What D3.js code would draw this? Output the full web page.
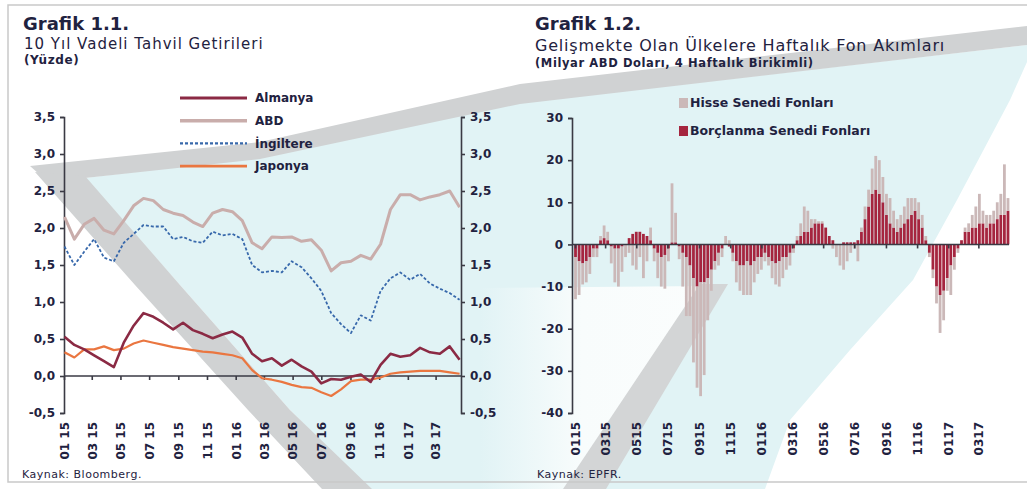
<!DOCTYPE html>
<html><head><meta charset="utf-8">
<script src="https://cdn.jsdelivr.net/npm/d3@7/dist/d3.min.js"></script>
<style>
body{margin:0;background:#fff;overflow:hidden}
svg{display:block}
text{font-family:"DejaVu Sans",sans-serif;fill:#1f2240}
</style>
</head><body>
<svg id="c" width="1027" height="489"></svg>
<script>
// ---------- DATA ----------
// Grafik 1.1 : 10-year bond yields (%), sampled every 3 weeks from 2015-01-02
const seriesNames = ["Almanya", "ABD", "İngiltere", "Japonya"];
const almanya = [0.53,0.42,0.36,0.28,0.2,0.12,0.45,0.68,0.85,0.8,0.72,0.63,0.72,0.62,0.57,0.51,0.56,0.6,0.52,0.3,0.2,0.24,0.14,0.22,0.13,0.06,-0.1,-0.04,-0.05,-0.01,0.02,-0.08,0.15,0.3,0.26,0.28,0.38,0.32,0.3,0.4,0.22];
const abd = [2.15,1.85,2.05,2.13,1.97,1.92,2.1,2.3,2.4,2.37,2.25,2.2,2.17,2.08,2.02,2.2,2.25,2.22,2.1,1.8,1.72,1.88,1.87,1.88,1.82,1.84,1.7,1.42,1.53,1.55,1.63,1.58,1.78,2.25,2.45,2.45,2.38,2.42,2.45,2.5,2.28];
const ingiltere = [1.75,1.5,1.68,1.85,1.6,1.55,1.8,1.92,2.04,2.02,2.02,1.85,1.88,1.82,1.8,1.95,1.9,1.92,1.85,1.5,1.4,1.42,1.4,1.55,1.47,1.32,1.15,0.85,0.7,0.58,0.82,0.75,1.15,1.32,1.4,1.3,1.38,1.25,1.18,1.12,1.03];
const japonya = [0.32,0.25,0.36,0.36,0.4,0.35,0.37,0.44,0.48,0.45,0.42,0.39,0.37,0.35,0.33,0.32,0.3,0.28,0.24,0.08,-0.03,-0.05,-0.08,-0.12,-0.15,-0.16,-0.22,-0.27,-0.18,-0.07,-0.05,-0.05,-0.02,0.03,0.05,0.06,0.07,0.07,0.07,0.05,0.03];
const lineStart = "2015-01-02", lineEnd = "2017-04-22", lineStepWeeks = 3;
const leftTicks = [-0.5,0,0.5,1,1.5,2,2.5,3,3.5];

// Grafik 1.2 : weekly fund flows (bn USD, 4-week cumulative), weekly from 2015-01-02
const fundNames = ["Hisse Senedi Fonları", "Borçlanma Senedi Fonları"];
const borclanma = [-3,-4,-4.5,-4,-3,-1,-1,1,1.5,1,-0.5,-1,-1,-0.5,0,1.5,2.5,3,3,2.5,2,1,-1,-2,-3,-2.5,-1,0.5,0.5,-0.5,-2,-3,-5,-8,-10,-9,-9,-8,-6,-4,-2,-1,0,-0.5,-2,-4,-5,-5,-4,-5,-4,-3,-3,-2,-3,-4,-4.5,-4,-3,-3,-2,-1,1,2,3,3,4,5,5,5,4,2,1,0,0,0.5,0.5,0.5,0.5,1,3,6,9,12,13,12,10,7,5,4,3,4,5,6,7,8,6,4,1,-2,-6,-10,-12,-11,-8,-5,-3,-1,1,3,3,4,4,5,5,4,5,5,6,7,7,8];
const hisse = [-10,-8,-5,-5,-4,-2,-2,1,3,2,-4,-8,-9,-6,-3,-2,-5,-6,-3,-8,-4,3,-3,-6,-7,-8,-3,14,7,-3,-8,-14,-12,-20,-24,-27,-22,-10,-5,-2,-3,-2,2,1,-2,-5,-6,-7,-8,-7,-5,-4,-3,-2,-2,-4,-5,-6,-5,-3,-3,-1,1,3,6,5,2,1,0.5,0.5,0,0,-1,-3,-5,-6,-4,-2,-1,-4,1,3,4,6,8,8,6,5,6,4,3,3,4,5,4,3,4,3,1,-1,-2,-4,-9,-7,-3,-7,-3,-1,0,1,2,3,5,7,3,3,2,3,4,5,12,3];
const barStart = "2015-01-02", barEnd = "2017-04-29";
const rightTicks = [-40,-30,-20,-10,0,10,20,30];

// x tick dates (every two months) and their labels
const tickDates = ["2015-01-01","2015-03-01","2015-05-01","2015-07-01","2015-09-01","2015-11-01","2016-01-01","2016-03-01","2016-05-01","2016-07-01","2016-09-01","2016-11-01","2017-01-01","2017-03-01"];
const leftTickLabels = ["01 15","03 15","05 15","07 15","09 15","11 15","01 16","03 16","05 16","07 16","09 16","11 16","01 17","03 17"];
const rightTickLabels = ["0115","0315","0515","0715","0915","1115","0116","0316","0516","0716","0916","1116","0117","0317"];

// ---------- DRAW ----------
const parse = d3.timeParse("%Y-%m-%d");
const tr = d3.formatLocale({decimal:",",thousands:".",grouping:[3],currency:["","₺"],minus:"-"});
const svg = d3.select("#c");

// decorative background (photographed page watermark)
const defs = svg.append("defs");
const grad = defs.append("linearGradient").attr("id","fade").attr("x1","0").attr("x2","1").attr("y1","0").attr("y2","0");
grad.append("stop").attr("offset","0").attr("stop-color","#e1f3f5");
grad.append("stop").attr("offset","0.45").attr("stop-color","#f8fcfc");
grad.append("stop").attr("offset","1").attr("stop-color","#fbfdfd");
const bg = svg.append("g");
bg.append("polygon").attr("points","85,178 260,157 520,103 1027,45 1027,62 1010,100 957,200 913,280 850,350 790,420 765,489 370,489 290,410 180,285")
  .attr("fill","#e1f3f5");
bg.append("polygon").attr("points","480,288 705,286 592,489 480,489").attr("fill","url(#fade)");
bg.append("polygon").attr("points","563,489 606,489 728,284 700,284").attr("fill","#d3d5d6");
bg.append("polygon").attr("points","30,166 260,142 520,84 1027,26 1027,45 520,104 260,159 48,182")
  .attr("fill","#d0d2d3");
bg.append("polygon").attr("points","35,172 85,176 180,285 290,410 372,489 322,489 248,410 135,285")
  .attr("fill","#d0d2d3");
bg.append("rect").attr("x",8).attr("y",5).attr("width",1030).attr("height",477)
  .attr("fill","none").attr("stroke","#c9c9c9").attr("stroke-width",1.5);

// ---------- Grafik 1.1 ----------
const xL = d3.scaleTime().domain([parse("2015-01-01"), parse("2017-04-24")]).range([64, 461]);
const yL = d3.scaleLinear().domain([-0.5, 3.5]).range([413, 117]);
const lineDates = d3.timeFriday.range(parse(lineStart), parse(lineEnd), lineStepWeeks);
const lineSeries = [
  {name:"Almanya", vals:almanya, color:"#8b2a44", w:2.6, dash:null},
  {name:"ABD", vals:abd, color:"#c9adab", w:3, dash:null},
  {name:"İngiltere", vals:ingiltere, color:"#3768ab", w:1.8, dash:"3,2"},
  {name:"Japonya", vals:japonya, color:"#ea7640", w:2.2, dash:null}
];
const gL = svg.append("g");
// axes
const axL = gL.append("g").attr("transform","translate(64,0)").call(d3.axisLeft(yL).tickValues(leftTicks).tickSize(4).tickFormat(tr.format(".1f")));
const axR = gL.append("g").attr("transform","translate(461,0)").call(d3.axisRight(yL).tickValues(leftTicks).tickSize(4).tickFormat(tr.format(".1f")));
const zeroL = gL.append("g").attr("transform",`translate(0,${yL(0)})`).call(d3.axisBottom(xL).tickValues(tickDates.map(parse)).tickSize(4).tickFormat(""));
zeroL.select(".domain").attr("d",`M64,0H461`);
const labL = gL.append("g").attr("transform","translate(0,418)").call(d3.axisBottom(xL).tickValues(tickDates.map(parse)).tickSize(0).tickFormat((d,i)=>leftTickLabels[i]));
labL.select(".domain").remove();
labL.selectAll("text").attr("transform","rotate(-90)").attr("x",-4).attr("y",0).attr("dy","0.36em").attr("text-anchor","end");
[axL,axR,zeroL,labL].forEach(a=>{a.selectAll("path,line").attr("stroke","#3a3a44").attr("stroke-width",1.6);a.selectAll("text").attr("font-size",12).attr("font-weight","bold").attr("fill","#2a2a3a");});
axL.selectAll("text").attr("x",-9);
axR.selectAll("text").attr("x",9);
// lines
const line = d3.line().x((d,i)=>xL(lineDates[i])).y(d=>yL(d));
lineSeries.slice().reverse().forEach(s=>{
  gL.append("path").attr("d",line(s.vals)).attr("fill","none").attr("stroke",s.color)
    .attr("stroke-width",s.w).attr("stroke-dasharray",s.dash).attr("stroke-linejoin","round");
});
// legend
const legL = gL.append("g");
lineSeries.forEach((s,i)=>{
  const y = 98 + i*22.7;
  legL.append("line").attr("x1",180).attr("x2",247).attr("y1",y).attr("y2",y).attr("stroke",s.color).attr("stroke-width",s.w+0.4).attr("stroke-dasharray",s.dash);
  legL.append("text").attr("x",255).attr("y",y).attr("dy","0.35em").attr("font-size",12).attr("font-weight","bold").attr("fill","#2a2c44").text(s.name);
});

// titles
svg.append("text").attr("x",23).attr("y",30).attr("font-size",18).attr("font-weight","bold").attr("fill","#b03048").text("Grafik 1.1.");
svg.append("text").attr("x",24).attr("y",49).attr("font-size",15).attr("letter-spacing",1).text("10 Yıl Vadeli Tahvil Getirileri");
svg.append("text").attr("x",24).attr("y",64).attr("font-size",12).attr("letter-spacing",0.6).attr("font-weight","bold").text("(Yüzde)");
svg.append("text").attr("x",22).attr("y",478).attr("font-size",11).attr("letter-spacing",0.5).text("Kaynak: Bloomberg.");

// ---------- Grafik 1.2 ----------
const xR = d3.scaleTime().domain([parse("2015-01-01"), parse("2017-04-30")]).range([575, 1009]);
const yR = d3.scaleLinear().domain([-40, 30]).range([413, 118]);
const barDates = d3.timeFriday.range(parse(barStart), parse(barEnd));
const table = barDates.map((d,i)=>({date:d, borc:borclanma[i], hisse:hisse[i]}));
const stack = d3.stack().keys(["borc","hisse"]).offset(d3.stackOffsetDiverging)(table);
const barColors = {borc:"#a5253f", hisse:"#cbb8b8"};
const gR = svg.append("g");
stack.forEach(layer=>{
  gR.append("g").attr("fill",barColors[layer.key]).selectAll("rect").data(layer).join("rect")
    .attr("x",d=>xR(d.data.date)-1.4).attr("width",2.8)
    .attr("y",d=>yR(Math.max(d[0],d[1]))).attr("height",d=>Math.abs(yR(d[0])-yR(d[1])));
});
const axR2 = gR.append("g").attr("transform","translate(572,0)").call(d3.axisLeft(yR).tickValues(rightTicks).tickSize(4).tickFormat(tr.format("d")));
const zeroR = gR.append("g").attr("transform",`translate(0,${yR(0)})`).call(d3.axisBottom(xR).tickValues(tickDates.map(parse)).tickSize(4).tickFormat(""));
zeroR.select(".domain").attr("d",`M572,0H1009`);
const labR = gR.append("g").attr("transform","translate(0,418)").call(d3.axisBottom(xR).tickValues(tickDates.map(parse)).tickSize(0).tickFormat((d,i)=>rightTickLabels[i]));
labR.select(".domain").remove();
labR.selectAll("text").attr("transform","rotate(-90)").attr("x",-4).attr("y",0).attr("dy","0.36em").attr("text-anchor","end");
[axR2,zeroR,labR].forEach(a=>{a.selectAll("path,line").attr("stroke","#3a3a44").attr("stroke-width",1.6);a.selectAll("text").attr("font-size",12).attr("font-weight","bold").attr("fill","#2a2a3a");});
axR2.selectAll("text").attr("x",-9);
// legend
const legR = gR.append("g");
fundNames.forEach((n,i)=>{
  const y = 103 + i*28;
  legR.append("rect").attr("x",679).attr("y",y-5).attr("width",9).attr("height",10).attr("fill",i===0?barColors.hisse:barColors.borc);
  legR.append("text").attr("x",690).attr("y",y).attr("dy","0.35em").attr("font-size",12.5).attr("font-weight","bold").attr("fill","#33333f").text(n);
});
svg.append("text").attr("x",535).attr("y",30).attr("font-size",18).attr("font-weight","bold").attr("fill","#b03048").text("Grafik 1.2.");
svg.append("text").attr("x",535).attr("y",51).attr("font-size",16).attr("letter-spacing",0.8).text("Gelişmekte Olan Ülkelere Haftalık Fon Akımları");
svg.append("text").attr("x",535).attr("y",67).attr("font-size",11.5).attr("letter-spacing",0.6).attr("font-weight","bold").text("(Milyar ABD Doları, 4 Haftalık Birikimli)");
svg.append("text").attr("x",537).attr("y",478).attr("font-size",11).attr("letter-spacing",0.5).text("Kaynak: EPFR.");
</script>
</body></html>
